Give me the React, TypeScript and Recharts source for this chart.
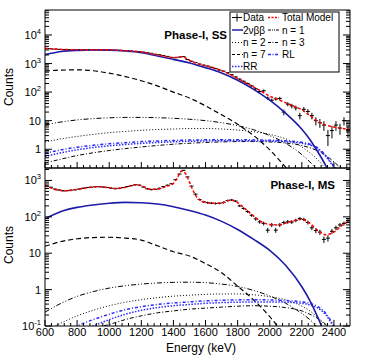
import React from 'react';
import { ComposedChart, Line, Scatter, ErrorBar, XAxis, YAxis } from 'recharts';

const FONT = '"Liberation Sans", Arial, Helvetica, sans-serif';

// 25 keV bins, centres in keV
const binCenters = [
  612.5, 637.5, 662.5, 687.5, 712.5, 737.5, 762.5, 787.5, 812.5, 837.5,
  862.5, 887.5, 912.5, 937.5, 962.5, 987.5, 1012.5, 1037.5, 1062.5, 1087.5,
  1112.5, 1137.5, 1162.5, 1187.5, 1212.5, 1237.5, 1262.5, 1287.5, 1312.5, 1337.5,
  1362.5, 1387.5, 1412.5, 1437.5, 1462.5, 1487.5, 1512.5, 1537.5, 1562.5, 1587.5,
  1612.5, 1637.5, 1662.5, 1687.5, 1712.5, 1737.5, 1762.5, 1787.5, 1812.5, 1837.5,
  1862.5, 1887.5, 1912.5, 1937.5, 1962.5, 1987.5, 2012.5, 2037.5, 2062.5, 2087.5,
  2112.5, 2137.5, 2162.5, 2187.5, 2212.5, 2237.5, 2262.5, 2287.5, 2312.5, 2337.5,
  2362.5, 2387.5, 2412.5, 2437.5, 2462.5, 2487.5,
];
const binHalfWidth = 12.5;

// Phase-I single-site data
const ssCounts = [
  3350, 3300, 3200, 3150, 3100, 3050, 3080, 3020, 3060, 3000,
  3040, 3070, 3010, 3050, 2990, 3000, 2960, 2920, 2900, 2840,
  2830, 2760, 2680, 2600, 2510, 2400, 2280, 2120, 2030, 1900,
  1780, 1640, 1600, 1690, 1740, 1380, 1200, 1080, 960, 880,
  820, 740, 660, 590, 540, 480, 410, 340, 285, 240,
  200, 165, 130, 105, 112, 62, 52, 58, 60, 20,
  38, 33, 28, 15, 25, 21, 15, 10, 8.5, 7,
  3, 4.5, 7, 5.5, 10, 4.5,
];
const ssErrors = [
  58, 57, 57, 56, 56, 55, 55, 55, 55, 55,
  55, 55, 55, 55, 55, 55, 54, 54, 54, 53,
  53, 53, 52, 51, 50, 49, 48, 46, 45, 44,
  42, 40, 40, 41, 42, 37, 35, 33, 31, 30,
  29, 27, 26, 24, 23, 22, 20, 18, 17, 15,
  14, 13, 11, 10, 11, 8, 7, 8, 8, 4.5,
  6, 6, 5.3, 3.9, 5, 4.6, 3.9, 3.2, 2.9, 2.6,
  1.7, 2.1, 2.6, 2.3, 3.2, 2.1,
];

// Phase-I multi-site data
const msCounts = [
  700, 650, 580, 545, 520, 525, 540, 555, 580, 610,
  640, 655, 670, 675, 660, 640, 610, 595, 610, 640,
  680, 720, 770, 740, 660, 590, 560, 570, 610, 680,
  740, 810, 1050, 1500, 1900, 1250, 700, 420, 300, 260,
  245, 238, 232, 236, 248, 280, 290, 270, 200, 170,
  140, 110, 88, 73, 66, 43, 60, 43, 60, 70,
  73, 72, 80, 90, 85, 70, 50, 42, 38, 24,
  26, 40, 50, 60, 66, 78,
];
const msErrors = [
  26, 25, 24, 23, 23, 23, 23, 24, 24, 25,
  25, 26, 26, 26, 26, 25, 25, 24, 25, 25,
  26, 27, 28, 27, 26, 24, 24, 24, 25, 26,
  27, 28, 32, 39, 44, 35, 26, 20, 17, 16,
  16, 15, 15, 15, 16, 17, 17, 16, 14, 13,
  12, 10, 9.4, 8.5, 8.1, 6.6, 7.7, 6.6, 7.7, 8.4,
  8.5, 8.5, 8.9, 9.5, 9.2, 8.4, 7.1, 6.5, 6.2, 4.9,
  5.1, 6.3, 7.1, 7.7, 8.1, 8.8,
];

// total model curves
const ssModelEnergy = [
  600, 650, 700, 750, 800, 900, 1000, 1100, 1200, 1300, 1400, 1430, 1460, 1490, 1550, 1600,
  1700, 1800, 1900, 1950, 2000, 2050, 2100, 2150, 2200, 2250, 2300, 2350, 2400, 2450, 2500,
];
const ssTotalModel = [
  3400, 3250, 3130, 3070, 3050, 3040, 2990, 2830, 2530, 2000, 1620, 1650, 1720, 1380, 1000, 840,
  570, 300, 150, 105, 72, 56, 42, 32, 24, 15, 9.5, 7, 6, 5.4, 4.8,
];
const msModelEnergy = [
  600, 625, 650, 675, 700, 725, 750, 775, 800, 850, 900, 950, 1000, 1050, 1100, 1150,
  1175, 1200, 1250, 1300, 1350, 1400, 1425, 1450, 1475, 1500, 1525, 1550, 1600, 1650,
  1700, 1750, 1775, 1800, 1850, 1900, 1950, 2000, 2050, 2100, 2150, 2200, 2250, 2300,
  2350, 2400, 2450, 2500,
];
const msTotalModel = [
  720, 650, 590, 550, 530, 520, 528, 545, 570, 620, 660, 672, 630, 600, 645, 740,
  765, 720, 580, 575, 670, 830, 1200, 1800, 1550, 900, 500, 330, 250, 236,
  240, 285, 282, 245, 160, 105, 72, 62, 60, 68, 78, 86, 66, 42,
  32, 38, 58, 78,
];

// component grid (keV)
const compEnergy = [
  600, 700, 800, 900, 1000, 1100, 1200, 1300, 1400, 1500, 1600, 1700, 1800, 1900, 2000, 2100,
  2200, 2250, 2300, 2350, 2400, 2450, 2500,
];
const ss2vbb = [2050, 2650, 2900, 2980, 2950, 2750, 2400, 1850, 1400, 1050, 720, 470, 260, 125, 52, 18, 5, 2.2, 0.8, 0.26, 0.06, 0.01, 0.001];
const ssN1 = [7, 9, 10.6, 11.8, 12.6, 13, 13, 12.7, 12.1, 11.2, 10, 8.5, 6.7, 4.8, 3, 1.6, 0.65, 0.36, 0.18, 0.08, 0.03, 0.01, 0.005];
const ssN2 = [1.8, 2.3, 2.8, 3.3, 3.8, 4.2, 4.6, 4.9, 5.1, 5.3, 5.3, 5.1, 4.7, 4.1, 3.3, 2.3, 1.2, 0.75, 0.42, 0.2, 0.08, 0.03, 0.01];
const ssN3 = [0.33, 0.45, 0.6, 0.75, 0.9, 1.05, 1.2, 1.35, 1.5, 1.62, 1.72, 1.8, 1.85, 1.85, 1.8, 1.65, 1.35, 1.12, 0.88, 0.6, 0.36, 0.2, 0.1];
const ssN7 = [540, 590, 600, 560, 460, 350, 250, 165, 100, 62, 33, 16, 7.5, 3, 0.95, 0.23, 0.05, 0.02, 0.01, 0.005, 0.003, 0.002, 0.001];
const ssRL = [0.72, 0.95, 1.17, 1.37, 1.55, 1.7, 1.85, 1.95, 2.03, 2.1, 2.13, 2.15, 2.15, 2.12, 2.07, 1.97, 1.75, 1.5, 1.1, 0.6, 0.25, 0.1, 0.03];
const ssRR = [0.55, 0.75, 0.95, 1.15, 1.32, 1.47, 1.6, 1.72, 1.82, 1.9, 1.95, 1.98, 1.98, 1.96, 1.92, 1.83, 1.62, 1.4, 1.02, 0.55, 0.23, 0.09, 0.03];

const ms2vbb = [88, 140, 182, 212, 237, 250, 245, 225, 190, 150, 112, 75, 45, 24, 12, 4.6, 1.2, 0.5, 0.17, 0.05, 0.01, 0.002, 0.001];
const msN1 = [0.24, 0.42, 0.65, 0.88, 1.1, 1.28, 1.42, 1.52, 1.58, 1.6, 1.55, 1.42, 1.22, 0.95, 0.67, 0.42, 0.22, 0.15, 0.09, 0.05, 0.02, 0.01, 0.005];
const msN2 = [0.07, 0.12, 0.19, 0.27, 0.36, 0.45, 0.53, 0.6, 0.66, 0.7, 0.74, 0.76, 0.76, 0.72, 0.64, 0.52, 0.35, 0.26, 0.17, 0.1, 0.05, 0.02, 0.01];
const msN3 = [0.025, 0.04, 0.06, 0.085, 0.11, 0.15, 0.19, 0.23, 0.26, 0.29, 0.31, 0.33, 0.35, 0.36, 0.35, 0.32, 0.26, 0.21, 0.16, 0.11, 0.07, 0.04, 0.02];
const msN7 = [15.5, 21, 25, 27, 27.5, 26, 23, 16, 11, 8.4, 5.2, 2.9, 1.25, 0.52, 0.18, 0.05, 0.01, 0.005, 0.003, 0.002, 0.001, 0.001, 0.001];
const msRL = [0.04, 0.06, 0.1, 0.15, 0.21, 0.28, 0.34, 0.39, 0.43, 0.46, 0.49, 0.51, 0.52, 0.53, 0.52, 0.5, 0.46, 0.42, 0.34, 0.22, 0.1, 0.04, 0.01];
const msRR = [0.03, 0.045, 0.07, 0.1, 0.15, 0.21, 0.27, 0.32, 0.36, 0.39, 0.42, 0.44, 0.45, 0.46, 0.46, 0.45, 0.42, 0.38, 0.31, 0.2, 0.09, 0.035, 0.01];

// axes
const xMajorTicks = [600, 800, 1000, 1200, 1400, 1600, 1800, 2000, 2200, 2400];
const xTicks = [
  600, 640, 680, 720, 760, 800, 840, 880, 920, 960, 1000, 1040, 1080, 1120, 1160, 1200,
  1240, 1280, 1320, 1360, 1400, 1440, 1480, 1520, 1560, 1600, 1640, 1680, 1720, 1760, 1800,
  1840, 1880, 1920, 1960, 2000, 2040, 2080, 2120, 2160, 2200, 2240, 2280, 2320, 2360, 2400,
  2440, 2480,
];
const ssYDomain = [0.22, 75000];
const msYDomain = [0.1, 2200];
const ssYTicks = [
  0.3, 0.4, 0.5, 0.6, 0.7, 0.8, 0.9, 1, 2, 3, 4, 5, 6, 7, 8, 9, 10, 20, 30, 40, 50, 60, 70, 80, 90,
  100, 200, 300, 400, 500, 600, 700, 800, 900, 1000, 2000, 3000, 4000, 5000, 6000, 7000, 8000, 9000,
  10000, 20000, 30000, 40000, 50000, 60000, 70000,
];
const msYTicks = [
  0.1, 0.2, 0.3, 0.4, 0.5, 0.6, 0.7, 0.8, 0.9, 1, 2, 3, 4, 5, 6, 7, 8, 9, 10, 20, 30, 40, 50, 60, 70, 80, 90,
  100, 200, 300, 400, 500, 600, 700, 800, 900, 1000, 2000,
];
const ssYLabels = [1, 10, 100, 1000, 10000];
const msYLabels = [0.1, 1, 10, 100, 1000];

const pts = (es: number[], vs: number[]) => es.map((e, i) => ({ e, v: vs[i] }));
const dataPts = (vs: number[], errs: number[]) =>
  binCenters.map((e, i) => ({ e, v: vs[i], ex: binHalfWidth, ey: errs[i] }));

const isDecade = (v: number) => Math.abs(Math.log10(v) - Math.round(Math.log10(v))) < 1e-9;

const xTick = (dir: number, labels: boolean) => (props: any) => {
  const { x, y, payload } = props;
  const major = xMajorTicks.includes(payload.value);
  const len = major ? 6 : 3;
  return (
    <g>
      <line x1={x} x2={x} y1={y} y2={y - dir * len} stroke="#000" strokeWidth={1} />
      {labels && major && (
        <text x={x} y={y + 10} textAnchor="middle" fontSize={11} fontFamily={FONT} fill="#000">
          {payload.value}
        </text>
      )}
    </g>
  );
};

const yTick = (side: string, labels: number[] | null) => (props: any) => {
  const { x, y, payload } = props;
  const v = payload.value;
  const major = isDecade(v);
  const len = major ? 7 : 4;
  const x2 = side === 'left' ? x + len : x - len;
  const showLabel = labels && labels.includes(v);
  const exp = Math.round(Math.log10(v));
  return (
    <g>
      <line x1={x} x2={x2} y1={y} y2={y} stroke="#000" strokeWidth={1} />
      {showLabel && (
        <text x={x - 4} y={y + 4} textAnchor="end" fontSize={11} fontFamily={FONT} fill="#000">
          {exp === 0 ? '1' : exp === 1 ? '10' : (
            <>
              10
              <tspan dy={-5} fontSize={7.5}>{exp}</tspan>
            </>
          )}
        </text>
      )}
    </g>
  );
};

const noMarker = () => <g />;

type Panel = {
  counts: number[];
  errors: number[];
  modelE: number[];
  model: number[];
  bb: number[];
  n1: number[];
  n2: number[];
  n3: number[];
  n7: number[];
  rl: number[];
  rr: number[];
  domain: number[];
  ticks: number[];
  labels: number[];
};

const ss: Panel = {
  counts: ssCounts, errors: ssErrors, modelE: ssModelEnergy, model: ssTotalModel,
  bb: ss2vbb, n1: ssN1, n2: ssN2, n3: ssN3, n7: ssN7, rl: ssRL, rr: ssRR,
  domain: ssYDomain, ticks: ssYTicks, labels: ssYLabels,
};
const ms: Panel = {
  counts: msCounts, errors: msErrors, modelE: msModelEnergy, model: msTotalModel,
  bb: ms2vbb, n1: msN1, n2: msN2, n3: msN3, n7: msN7, rl: msRL, rr: msRR,
  domain: msYDomain, ticks: msYTicks, labels: msYLabels,
};

const BLUE_DARK = '#1c1ca8';
const BLUE = '#2b2bff';
const RED = '#ff0000';

function SpectrumPanel({ p, height, margin, xLabels }: { p: Panel; height: number; margin: any; xLabels: boolean }) {
  const line = (vs: number[], stroke: string, dash: string | undefined, w: number, key: string) => (
    <Line
      key={key}
      data={pts(compEnergy, vs)}
      dataKey="v"
      type="monotone"
      stroke={stroke}
      strokeWidth={w}
      strokeDasharray={dash}
      dot={false}
      activeDot={false}
      isAnimationActive={false}
    />
  );
  return (
    <ComposedChart width={374} height={height} margin={margin}>
      <XAxis
        dataKey="e"
        type="number"
        domain={[600, 2500]}
        allowDataOverflow
        ticks={xTicks}
        interval={0}
        height={1}
        tickSize={0}
        tickMargin={0}
        tickLine={false}
        stroke="#000"
        tick={xTick(1, xLabels)}
      />
      <XAxis
        xAxisId="top"
        orientation="top"
        type="number"
        domain={[600, 2500]}
        allowDataOverflow
        ticks={xTicks}
        interval={0}
        height={1}
        tickSize={0}
        tickMargin={0}
        tickLine={false}
        stroke="#000"
        tick={xTick(-1, false)}
      />
      <YAxis
        dataKey="v"
        type="number"
        scale="log"
        domain={p.domain}
        allowDataOverflow
        ticks={p.ticks}
        interval={0}
        width={1}
        tickSize={0}
        tickMargin={0}
        tickLine={false}
        stroke="#000"
        tick={yTick('left', p.labels)}
      />
      <YAxis
        yAxisId="right"
        orientation="right"
        type="number"
        scale="log"
        domain={p.domain}
        allowDataOverflow
        ticks={p.ticks}
        interval={0}
        width={1}
        tickSize={0}
        tickMargin={0}
        tickLine={false}
        stroke="#000"
        tick={yTick('right', null)}
      />
      <Scatter data={dataPts(p.counts, p.errors)} shape={noMarker} fill="#000" isAnimationActive={false}>
        <ErrorBar dataKey="ey" direction="y" width={0} stroke="#000" strokeWidth={1} />
        <ErrorBar dataKey="ex" direction="x" width={0} stroke="#000" strokeWidth={1} />
      </Scatter>
      {line(p.n7, '#000', '5 3', 1.2, 'n7')}
      {line(p.n1, '#000', '5 2 1 2 1 2', 1, 'n1')}
      {line(p.n2, '#000', '1 2', 1, 'n2')}
      {line(p.n3, '#000', '4 2 1 2', 1, 'n3')}
      {line(p.rl, BLUE, '3 2 1 2', 1.5, 'rl')}
      {line(p.rr, BLUE, '1.5 1.5', 1.5, 'rr')}
      {line(p.bb, BLUE_DARK, undefined, 1.6, 'bb')}
      <Line
        data={pts(p.modelE, p.model)}
        dataKey="v"
        type="monotone"
        stroke={RED}
        strokeWidth={1.5}
        strokeDasharray="3 2"
        dot={false}
        activeDot={false}
        isAnimationActive={false}
      />
    </ComposedChart>
  );
}

function LegendBox() {
  const x0 = 230;
  const y0 = 12;
  const rows = [17.5, 30, 42.5, 54.5, 66.5];
  const c1 = 232;
  const c2 = 268;
  const txt = (x: number, y: number, s: string) => (
    <text x={x} y={y + 3.6} fontSize={10} fontFamily={FONT} fill="#000">
      {s}
    </text>
  );
  const seg = (x: number, y: number, stroke: string, dash?: string, w = 1) => (
    <line x1={x} x2={x + 11} y1={y} y2={y} stroke={stroke} strokeWidth={w} strokeDasharray={dash} />
  );
  return (
    <g>
      <rect x={x0} y={y0} width={109} height={60} fill="#fff" stroke="#000" strokeWidth={1} />
      <line x1={c1} x2={c1 + 10} y1={rows[0]} y2={rows[0]} stroke="#000" />
      <line x1={c1 + 5} x2={c1 + 5} y1={rows[0] - 4} y2={rows[0] + 4} stroke="#000" />
      {txt(243, rows[0], 'Data')}
      {seg(c2, rows[0], RED, '2 1.5', 1.5)}
      {txt(282, rows[0], 'Total Model')}
      {seg(c1, rows[1], BLUE_DARK, undefined, 1.5)}
      {txt(243, rows[1], '2νββ')}
      {seg(c2, rows[1], '#000', '3 1 1 1 1 1')}
      {txt(282, rows[1], 'n = 1')}
      {seg(c1, rows[2], '#000', '1 2')}
      {txt(243, rows[2], 'n = 2')}
      {seg(c2, rows[2], '#000', '3 1.5 1 1.5')}
      {txt(282, rows[2], 'n = 3')}
      {seg(c1, rows[3], '#000', '3 2')}
      {txt(243, rows[3], 'n = 7')}
      {seg(c2, rows[3], BLUE, '3 1.5 1 1.5', 1.5)}
      {txt(282, rows[3], 'RL')}
      {seg(c1, rows[4], BLUE, '1.5 1.5', 1.5)}
      {txt(243, rows[4], 'RR')}
    </g>
  );
}

export default function App() {
  return (
    <div style={{ position: 'absolute', left: 0, top: 0, width: 374, height: 361, background: '#fff' }}>
      <div style={{ position: 'absolute', left: 0, top: 0 }}>
        <SpectrumPanel p={ss} height={170} margin={{ top: 9, right: 23, bottom: 1, left: 44 }} xLabels={false} />
      </div>
      <div style={{ position: 'absolute', left: 0, top: 0 }}>
        <SpectrumPanel p={ms} height={361} margin={{ top: 167, right: 23, bottom: 34, left: 44 }} xLabels />
      </div>
      <svg
        width={374}
        height={361}
        style={{ position: 'absolute', left: 0, top: 0, pointerEvents: 'none' }}
      >
        <LegendBox />
        <text x={227} y={39} textAnchor="end" fontSize={11.5} fontWeight="bold" fontFamily={FONT}>
          Phase-I, SS
        </text>
        <text x={335} y={189} textAnchor="end" fontSize={11.5} fontWeight="bold" fontFamily={FONT}>
          Phase-I, MS
        </text>
        <text transform="translate(13, 87) rotate(-90)" textAnchor="middle" fontSize={12} fontFamily={FONT}>
          Counts
        </text>
        <text transform="translate(13, 245) rotate(-90)" textAnchor="middle" fontSize={12} fontFamily={FONT}>
          Counts
        </text>
        <text x={201} y={352} textAnchor="middle" fontSize={12} fontFamily={FONT}>
          Energy (keV)
        </text>
      </svg>
    </div>
  );
}
